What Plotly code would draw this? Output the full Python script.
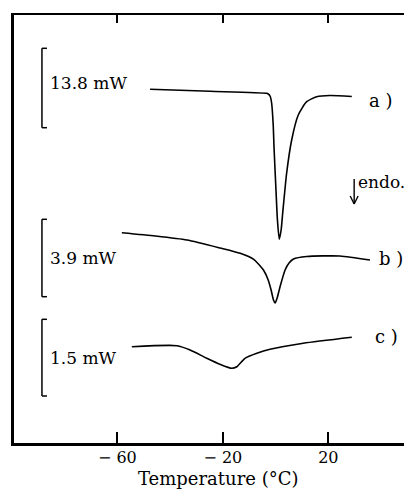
import plotly.graph_objects as go

# Temperature (°C) and offset heat-flow signal (arbitrary vertical units, stacked curves)
temp_a = [-47.6, -24.8, -3.4, -2.8, -2.1, -1.5, -0.9, -0.6, 0.2, 0.7, 1.4, 2.1, 2.7, 4.2, 6.1, 8.6, 11.8, 15.6, 20.6, 28.9]
flow_a = [353.7, 351.7, 349.7, 349.0, 347.0, 340.0, 318.0, 296.3, 250.0, 223.0, 203.7, 213.0, 230.0, 270.0, 303.0, 328.0, 341.3, 346.3, 347.5, 346.5]

temp_b = [-58.3, -45.6, -33.6, -21.0, -13.4, -8.3, -4.6, -2.8, -1.7, -0.8, -0.2, 0.6, 1.7, 3.6, 5.1, 6.8, 11.8, 24.4, 35.8]
flow_b = [210.3, 207.0, 203.0, 195.0, 189.7, 183.7, 173.0, 163.0, 153.0, 143.0, 140.0, 145.0, 156.3, 173.0, 180.0, 184.0, 186.5, 187.0, 183.0]

temp_c = [-54.5, -37.4, -32.4, -26.1, -21.1, -16.6, -14.7, -11.6, -7.1, -2.1, 10.5, 28.9]
flow_c = [96.3, 97.3, 93.0, 84.7, 78.7, 74.7, 76.3, 84.7, 89.7, 93.7, 99.7, 105.7]

curve_labels = ["a )", "b )", "c )"]
label_pos = [(34.8, 343), (38.6, 185), (37.1, 107)]

scale_labels = ["13.8 mW", "3.9 mW", "1.5 mW"]
scale_ranges = [(315.3, 394.7), (146.3, 223.7), (47.0, 123.7)]
scale_text_y = [359.7, 184.7, 84.7]

x_ticks = [-60, -20, 20]
x_ticktext = ["\u2212 60", "\u2212 20", "20"]
x_range = [-99.2, 48.7]
y_range = [0, 428]

FONT = "DejaVu Serif"

fig = go.Figure()
for t, f in [(temp_a, flow_a), (temp_b, flow_b), (temp_c, flow_c)]:
    fig.add_trace(go.Scatter(x=t, y=f, mode="lines",
                             line=dict(color="black", width=1.6, shape="spline", smoothing=0.6),
                             showlegend=False, hoverinfo="skip"))

# dummy trace for top axis
fig.add_trace(go.Scatter(x=[x_range[0]], y=[0], xaxis="x2", mode="markers",
                         marker=dict(opacity=0), showlegend=False, hoverinfo="skip"))

annotations = []
for txt, (lx, ly) in zip(curve_labels, label_pos):
    annotations.append(dict(x=lx, y=ly, text=txt, showarrow=False, xanchor="left", yanchor="middle",
                            font=dict(family=FONT, size=18, color="black")))

shapes = []
bar_x, serif_x = -88.6, -86.7
for txt, (y0, y1), ty in zip(scale_labels, scale_ranges, scale_text_y):
    shapes.append(dict(type="line", x0=bar_x, x1=bar_x, y0=y0, y1=y1, line=dict(color="black", width=1.5)))
    shapes.append(dict(type="line", x0=bar_x, x1=serif_x, y0=y0, y1=y0, line=dict(color="black", width=1.5)))
    shapes.append(dict(type="line", x0=bar_x, x1=serif_x, y0=y1, y1=y1, line=dict(color="black", width=1.5)))
    annotations.append(dict(x=-86.2, y=ty, text=txt, showarrow=False, xanchor="left", yanchor="middle",
                            font=dict(family=FONT, size=17, color="black")))

# endo arrow (shaft + open V head)
ax_x, ay_top, ay_bot = 29.8, 264, 239
shapes.append(dict(type="line", x0=ax_x, x1=ax_x, y0=ay_top, y1=ay_bot, line=dict(color="black", width=1.4)))
shapes.append(dict(type="line", x0=ax_x - 1.5, x1=ax_x, y0=ay_bot + 8, y1=ay_bot, line=dict(color="black", width=1.4)))
shapes.append(dict(type="line", x0=ax_x + 1.5, x1=ax_x, y0=ay_bot + 8, y1=ay_bot, line=dict(color="black", width=1.4)))
annotations.append(dict(x=30.6, y=261, text="endo.", showarrow=False, xanchor="left", yanchor="middle",
                        font=dict(family=FONT, size=17, color="black")))

# axis title placed as text below tick labels
annotations.append(dict(x=0.523, y=-36 / 428, xref="paper", yref="paper", text="Temperature (°C)",
                        showarrow=False, xanchor="center", yanchor="middle",
                        font=dict(family=FONT, size=18, color="black")))

fig.update_layout(
    width=404, height=496,
    margin=dict(l=14, r=0, t=15, b=53),
    paper_bgcolor="white", plot_bgcolor="white",
    font=dict(family=FONT, color="black"),
    xaxis=dict(range=x_range, tickvals=x_ticks, ticktext=x_ticktext, ticks="inside", ticklen=11,
               tickwidth=1.5, tickcolor="black", showline=True, linewidth=3, linecolor="black",
               ticklabelstandoff=-2,
               showgrid=False, zeroline=False, tickfont=dict(family=FONT, size=16, color="black")),
    xaxis2=dict(range=x_range, overlaying="x", side="top", tickvals=x_ticks, ticks="inside", ticklen=8,
                tickwidth=1.5, tickcolor="black", showline=True, linewidth=2, linecolor="black",
                showticklabels=False, showgrid=False, zeroline=False),
    yaxis=dict(range=y_range, showline=True, linewidth=3, linecolor="black", ticks="",
               showticklabels=False, showgrid=False, zeroline=False),
    annotations=annotations, shapes=shapes,
)

fig.write_html("out.html")
